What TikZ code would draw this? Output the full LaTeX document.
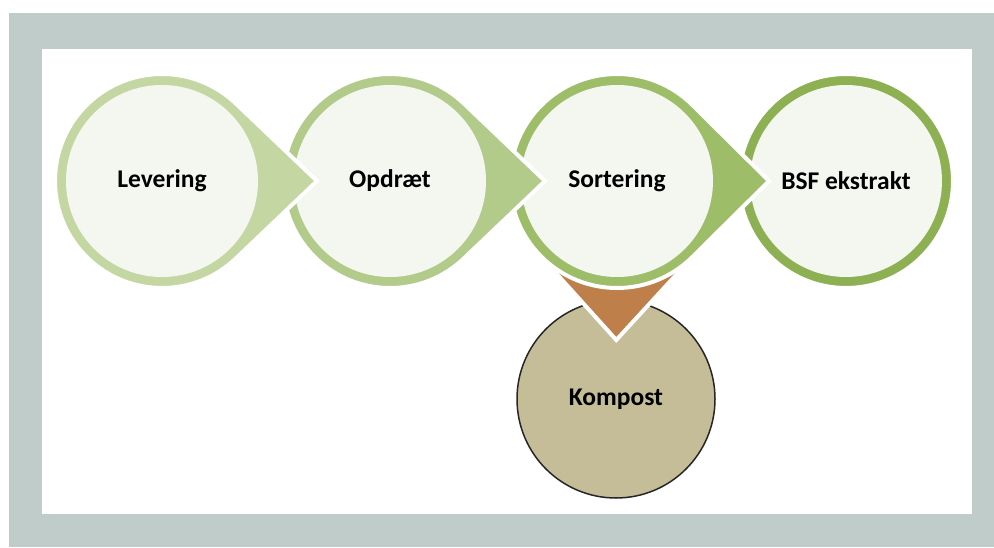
\documentclass[tikz,border=0pt]{standalone}
\usepackage{fontspec}
\setmainfont{Carlito}
\usetikzlibrary{calc, shadows}
\definecolor{framegray}{HTML}{BFCCC9}
\definecolor{levgreen}{HTML}{C4D7A3}
\definecolor{opdgreen}{HTML}{B2CB8B}
\definecolor{sorgreen}{HTML}{9EBD68}
\definecolor{bsfgreen}{HTML}{8DB052}
\definecolor{kompbrown}{HTML}{BF7F4A}
\definecolor{kompfill}{HTML}{C4BD97}
\definecolor{innerfill}{HTML}{F4F7F0}

\begin{document}
\begin{tikzpicture}[
    x=1pt, y=1pt,
    drop/.style={draw=white, line width=4pt, line join=miter,
                 drop shadow={opacity=0.2, shadow xshift=1pt, shadow yshift=-1.5pt}},
    stage/.style={circle, minimum size=192pt, inner sep=0pt, fill=innerfill,
                  font=\fontsize{25.5}{30}\selectfont\bfseries},
    komp/.style={circle, minimum size=198pt, inner sep=0pt, fill=kompfill,
                 draw=black!85, line width=1.5pt,
                 font=\fontsize{25.5}{30}\selectfont\bfseries},
]
\useasboundingbox (0,0) rectangle (994,547);
\fill[framegray] (9,0) rectangle (994,534);
\fill[white] (42,33) rectangle (972,498);

\coordinate (c-lev) at (162,366);
\coordinate (c-opd) at (390,366);
\coordinate (c-sor) at (617,366);
\coordinate (c-bsf) at (846,366);
\coordinate (c-komp) at (616,148);

% last stage first, so each pointer lies over the next circle
\path[drop, fill=bsfgreen] (c-bsf) circle[radius=107];
\node[stage] (bsf) at (c-bsf) {BSF ekstrakt};

\node[komp] (kompost) at (c-komp) {Kompost};
\path[drop, fill=kompbrown] ($(c-sor)!159pt!(kompost)$) -- ($(c-sor)+(-42:107)$)
    arc[start angle=-42, end angle=222, radius=107] -- cycle;

\path[drop, fill=sorgreen] ($(c-sor)!152pt!(bsf)$) -- ($(c-sor)+(45:107)$)
    arc[start angle=45, end angle=315, radius=107] -- cycle;
\node[stage] (sor) at (c-sor) {Sortering};

\path[drop, fill=opdgreen] ($(c-opd)!155pt!(sor)$) -- ($(c-opd)+(46:107)$)
    arc[start angle=46, end angle=314, radius=107] -- cycle;
\node[stage] (opd) at (c-opd) {Opdræt};

\path[drop, fill=levgreen] ($(c-lev)!155pt!(opd)$) -- ($(c-lev)+(46:107)$)
    arc[start angle=46, end angle=314, radius=107] -- cycle;
\node[stage] (lev) at (c-lev) {Levering};
\end{tikzpicture}
\end{document}
